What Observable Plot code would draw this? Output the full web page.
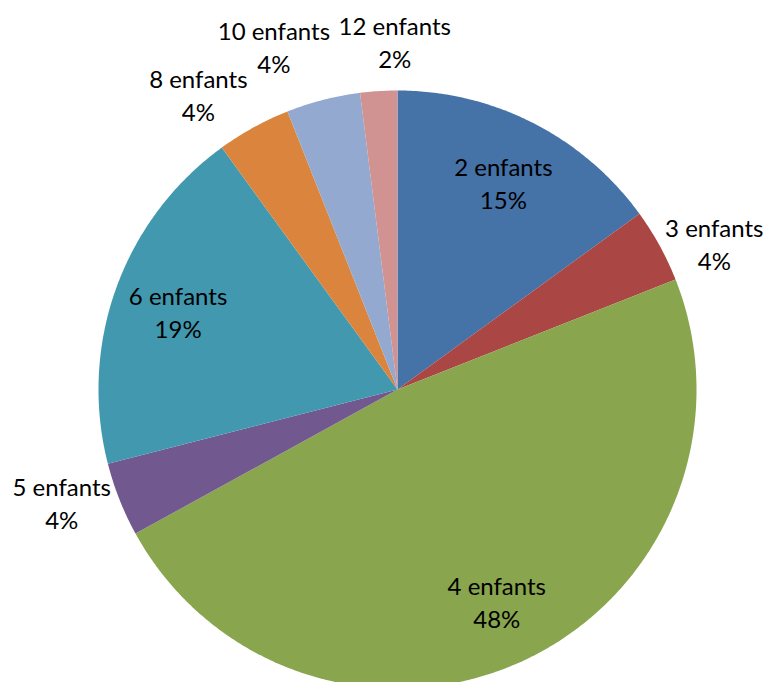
<!DOCTYPE html>
<html><head><meta charset="utf-8">
<script src="https://cdn.jsdelivr.net/npm/d3@7"></script>
<script src="https://cdn.jsdelivr.net/npm/@observablehq/plot@0.6"></script>
<style>body{margin:0;background:#fff}</style>
</head><body><div id="chart"></div>
<script>
const categories = ["2 enfants","3 enfants","4 enfants","5 enfants","6 enfants","8 enfants","10 enfants","12 enfants"];
const values = [15,4,48,4,19,4,4,2];
const percentLabels = ["15%","4%","48%","4%","19%","4%","4%","2%"];
const colors = ["#4572A7","#AA4643","#89A54E","#71588F","#4198AF","#DB843D","#93A9CF","#D19392"];

const W = 766, Hh = 682, cx = 397, cy = 389, R = 299;
const FONT = "Lato", FS = 24, LH = 33;

const total = d3.sum(values);
let acc = 0;
const start = [], end = [];
values.forEach(v => { start.push(acc / total * 360); acc += v; end.push(acc / total * 360); });

// slice polygons (unit circle, angle clockwise from top)
const rows = [];
values.forEach((v, i) => {
  rows.push({slice: i, x: 0, y: 0, color: colors[i]});
  const n = Math.max(2, Math.ceil((end[i] - start[i]) / 0.5));
  for (let k = 0; k <= n; k++) {
    const a = (start[i] + (end[i] - start[i]) * k / n) * Math.PI / 180;
    rows.push({slice: i, x: Math.sin(a), y: Math.cos(a), color: colors[i]});
  }
  rows.push({slice: i, x: 0, y: 0, color: colors[i]});
});

// labels: outside labels hug the rim by their nearest edge / corner
const ctx = document.createElement("canvas").getContext("2d");
ctx.font = `${FS}px ${FONT}`;
const BH = 48, HV = 44, GAP = 8;
const smooth = (a, b, t) => { const u = Math.min(1, Math.max(0, (t - a) / (b - a))); return u * u * (3 - 2 * u); };
const labels = categories.map((c, i) => ({
  i, text: c + "\n" + percentLabels[i], theta: (start[i] + end[i]) / 2,
  inside: values[i] >= 10,
  w: Math.max(ctx.measureText(c).width, ctx.measureText(percentLabels[i]).width)
}));
labels.forEach(l => {
  const a = l.theta * Math.PI / 180, s = Math.sin(a), c = Math.cos(a);
  if (l.inside) { l.px = 0.78 * R * s; l.py = -0.78 * R * c; return; }
  const r = R + 6;
  const fx = smooth(0.15, 0.45, Math.abs(s)), fy = smooth(0.5, 1.0, Math.abs(c));
  l.px = r * s + Math.sign(s) * (l.w / 2 + 3) * fx;
  l.py = -r * c - Math.sign(c) * HV * fy;
});
const outs = labels.filter(l => !l.inside);
for (let it = 0; it < 60; it++) {
  let moved = false;
  for (let k = outs.length - 2; k >= 0; k--) {
    const a = outs[k], b = outs[k + 1];
    const nx = (a.w + b.w) / 2 + GAP - Math.abs(a.px - b.px);
    const ny = BH - Math.abs(a.py - b.py);
    if (nx > 0 && ny > 0) {
      moved = true;
      if (nx <= 2 * ny) {
        const d = Math.sign(a.px - b.px) || -1;
        a.px += d * (nx + 0.5) * 2 / 3; b.px -= d * (nx + 0.5) / 3;
      } else {
        const d = Math.sign(a.py - b.py) || 1;
        a.py += d * (ny + 0.5) * 2 / 3; b.py -= d * (ny + 0.5) / 3;
      }
    }
  }
  if (!moved) break;
}
// keep labels inside the frame
outs.forEach(l => {
  l.px = Math.min(W - 3 - l.w / 2 - cx, Math.max(3 + l.w / 2 - cx, l.px));
  l.py = Math.min(Hh - 3 - LH - cy, Math.max(3 + LH - cy, l.py));
});
const labelRows = labels.map(l => ({text: l.text, x: l.px / R, y: -l.py / R}));

const chart = Plot.plot({
  width: W, height: Hh,
  x: {domain: [-1, 1], range: [cx - R, cx + R], axis: null},
  y: {domain: [-1, 1], range: [cy + R, cy - R], axis: null},
  color: {type: "identity"},
  style: {fontFamily: FONT, background: "#fff"},
  marks: [
    Plot.line(rows, {x: "x", y: "y", z: "slice", fill: "color", stroke: "none", curve: "linear"}),
    Plot.text(labelRows, {x: "x", y: "y", text: "text", fontSize: FS, lineHeight: LH / FS, fill: "#000", fontFamily: FONT})
  ]
});
document.getElementById("chart").appendChild(chart);
</script>
</body></html>
